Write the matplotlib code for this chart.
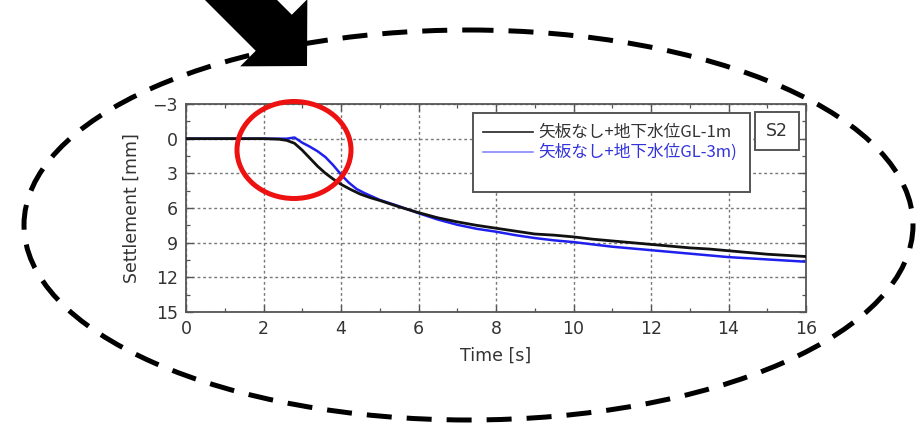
import matplotlib
matplotlib.use("Agg")
import matplotlib.pyplot as plt
from matplotlib.patches import Ellipse, Rectangle, FancyArrow
from matplotlib.ticker import MultipleLocator

# --- measured settlement histories -------------------------------------
t_gl1 = [0, 0.5, 1.0, 1.5, 2.0, 2.4, 2.6, 2.8, 3.0, 3.2, 3.4, 3.6, 3.8, 4.0,
         4.25, 4.5, 4.75, 5.0, 5.5, 6.0, 6.5, 7.0, 7.5, 8.0, 8.5, 9.0, 9.5,
         10.0, 10.5, 11.0, 11.5, 12.0, 12.5, 13.0, 13.5, 14.0, 14.5, 15.0,
         15.5, 16.0]
s_gl1 = [0, 0, 0, 0, 0, 0.05, 0.15, 0.4, 1.0, 1.7, 2.4, 3.0, 3.5, 3.95,
         4.4, 4.8, 5.1, 5.35, 5.9, 6.4, 6.85, 7.2, 7.5, 7.75, 8.0, 8.25, 8.35,
         8.5, 8.7, 8.85, 9.0, 9.15, 9.3, 9.45, 9.55, 9.7, 9.85, 10.0,
         10.1, 10.2]

t_gl3 = [0, 0.5, 1.0, 1.5, 2.0, 2.4, 2.6, 2.8, 3.0, 3.2, 3.4, 3.6, 3.8, 4.0,
         4.2, 4.4, 4.6, 4.8, 5.0, 5.5, 6.0, 6.5, 7.0, 7.5, 8.0, 8.5, 9.0, 9.5,
         10.0, 10.5, 11.0, 11.5, 12.0, 12.5, 13.0, 13.5, 14.0, 14.5, 15.0,
         15.5, 16.0]
s_gl3 = [0, 0, 0, 0, 0, 0, 0, -0.1, 0.35, 0.7, 1.1, 1.6, 2.3, 3.1,
         3.8, 4.35, 4.7, 5.0, 5.3, 5.85, 6.45, 7.0, 7.45, 7.8, 8.05, 8.35, 8.6,
         8.8, 8.95, 9.15, 9.35, 9.5, 9.65, 9.8, 9.95, 10.1, 10.25, 10.35,
         10.45, 10.55, 10.65]

label_gl1 = "矢板なし+地下水位GL-1m"
label_gl3 = "矢板なし+地下水位GL-3m)"
case_name = "S2"

x_ticks = list(range(0, 17, 2))
y_ticks = [-3, 0, 3, 6, 9, 12, 15]

W, H = 922, 425
fig = plt.figure(figsize=(W / 100, H / 100), dpi=100)
fig.patch.set_facecolor("white")

# main axes, placed in pixel terms
L, R, T, B = 186, 806, 104, 312
ax = fig.add_axes([L / W, (H - B) / H, (R - L) / W, (B - T) / H])

ax.plot(t_gl1, s_gl1, color="#111111", lw=2.0, zorder=3)
ax.plot(t_gl3, s_gl3, color="#2020ee", lw=1.8, zorder=2.5)

ax.set_xlim(0, 16)
ax.set_ylim(15, -3)
ax.set_xticks(x_ticks)
ax.set_yticks(y_ticks)
ax.xaxis.set_minor_locator(MultipleLocator(1))
ax.yaxis.set_minor_locator(MultipleLocator(1.5))
ax.tick_params(which="both", direction="in", top=True, right=True,
               colors="#555555", labelcolor="#333333")
ax.tick_params(which="major", length=5, width=1.0, labelsize=12.5, pad=6)
ax.tick_params(which="minor", length=3, width=0.9)
ax.grid(True, which="major", color="#777777", lw=1.0, ls=(0, (2, 2)))
for sp in ax.spines.values():
    sp.set_color("#555555")
    sp.set_linewidth(1.3)

ax.set_xlabel("Time [s]", fontsize=12.5, color="#333333", labelpad=6)
ax.set_ylabel("Settlement [mm]", fontsize=12.5, color="#333333", labelpad=8)

# legend box
cjk = ["Noto Sans CJK JP", "DejaVu Sans"]
ax.add_patch(Rectangle((0.463, 0.577), 0.447, 0.380, transform=ax.transAxes,
                       facecolor="white", edgecolor="#555555", lw=1.4, zorder=5))
ax.plot([0.479, 0.560], [0.865, 0.865], transform=ax.transAxes,
        color="#222222", lw=1.2, zorder=6)
ax.plot([0.479, 0.560], [0.769, 0.769], transform=ax.transAxes,
        color="#8888ff", lw=1.2, zorder=6)
ax.text(0.568, 0.865, label_gl1, transform=ax.transAxes, va="center",
        ha="left", fontsize=12, family=cjk, color="#333333", zorder=6)
ax.text(0.568, 0.769, label_gl3, transform=ax.transAxes, va="center",
        ha="left", fontsize=12, family=cjk, color="#3333dd", zorder=6)

# case label box
ax.add_patch(Rectangle((0.918, 0.779), 0.071, 0.183, transform=ax.transAxes,
                       facecolor="white", edgecolor="#555555", lw=1.4, zorder=5))
ax.text(0.9535, 0.870, case_name, transform=ax.transAxes, va="center",
        ha="center", fontsize=12.5, color="#333333", zorder=6)

# overlay in pixel coordinates for the highlighting marks
ov = fig.add_axes([0, 0, 1, 1], facecolor="none")
ov.set_xlim(0, W)
ov.set_ylim(H, 0)
ov.axis("off")

ov.add_patch(Ellipse((468.5, 225), 889, 390, fill=False, edgecolor="black",
                     lw=3.6, ls=(0, (5, 3))))
ov.add_patch(Ellipse((294, 150), 114, 97, fill=False, edgecolor="#ee1111",
                     lw=3.6))
ov.add_patch(FancyArrow(175, -66, 132, 132, width=51, head_width=95,
                        head_length=47, length_includes_head=True,
                        color="black", lw=0))

fig.savefig("out.png", dpi=100, facecolor="white")
